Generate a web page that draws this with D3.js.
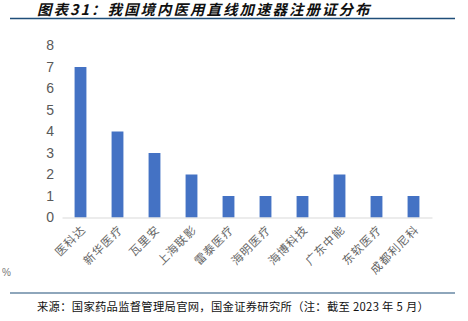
<!DOCTYPE html>
<html><head><meta charset="utf-8">
<script src="https://cdn.jsdelivr.net/npm/d3@7"></script>
<style>body{margin:0;background:#fff;}svg{display:block;}</style>
</head><body>
<script>
const categories = ["医科达","新华医疗","瓦里安","上海联影","雷泰医疗","海明医疗","海博科技","广东中能","东软医疗","成都利尼科"];
const values = [7,4,3,2,1,1,1,2,1,1];
const yTicks = [0,1,2,3,4,5,6,7,8];
const titleText = "图表31：我国境内医用直线加速器注册证分布";
const sourceText = "来源：国家药品监督管理局官网，国金证券研究所（注：截至 2023 年 5 月）";

const W=468,H=321;
const svg=d3.select("body").append("svg").attr("width",W).attr("height",H);
const cjk="'Noto Sans CJK SC','Noto Sans',sans-serif";

svg.append("text").attr("x",37).attr("y",15).attr("font-family",cjk).attr("font-size",14.5)
  .attr("font-weight","bold").attr("font-style","italic").attr("fill","#111")
  .attr("letter-spacing",2).text(titleText);
svg.append("line").attr("x1",10).attr("x2",455).attr("y1",18.5).attr("y2",18.5).attr("stroke","#1f4e79").attr("stroke-width",1.5);

const x=d3.scaleBand().domain(categories).range([62,432]).paddingInner(0.68).paddingOuter(0.34);
const y=d3.scaleLinear().domain([0,8]).range([217.5,45.5]);

svg.selectAll("rect.bar").data(values).join("rect").attr("class","bar")
  .attr("x",(d,i)=>x(categories[i])).attr("width",x.bandwidth())
  .attr("y",d=>y(d)).attr("height",d=>y(0)-y(d)).attr("fill","#4472c4");

const ya=svg.append("g").attr("transform","translate(54,0)")
  .call(d3.axisLeft(y).tickValues(yTicks).tickSize(0).tickPadding(0));
ya.select(".domain").remove();
ya.selectAll("text").attr("font-family","Liberation Sans, Arial, sans-serif").attr("font-size",14).attr("fill","#595959");

const xa=svg.append("g").attr("transform",`translate(0,${y(0)})`)
  .call(d3.axisBottom(x).tickSize(0).tickPadding(0));
xa.select(".domain").attr("stroke","#d9d9d9").attr("stroke-width",1.2);
xa.selectAll("text").attr("font-family",cjk).attr("font-size",11.5).attr("fill","#666")
  .attr("letter-spacing",1).attr("text-anchor","end").attr("dy",0)
  .attr("transform","translate(6,13) rotate(-45)");

svg.append("text").attr("x",2).attr("y",276).attr("font-family","Liberation Sans, Arial, sans-serif")
  .attr("font-size",10).attr("fill","#777").text("%");

svg.append("line").attr("x1",10).attr("x2",455).attr("y1",293).attr("y2",293).attr("stroke","#1f4e79").attr("stroke-width",1.2);
svg.append("text").attr("x",37).attr("y",311).attr("font-family",cjk).attr("font-size",11.3).attr("fill","#111")
  .attr("letter-spacing",0.3).text(sourceText);
</script>
</body></html>
